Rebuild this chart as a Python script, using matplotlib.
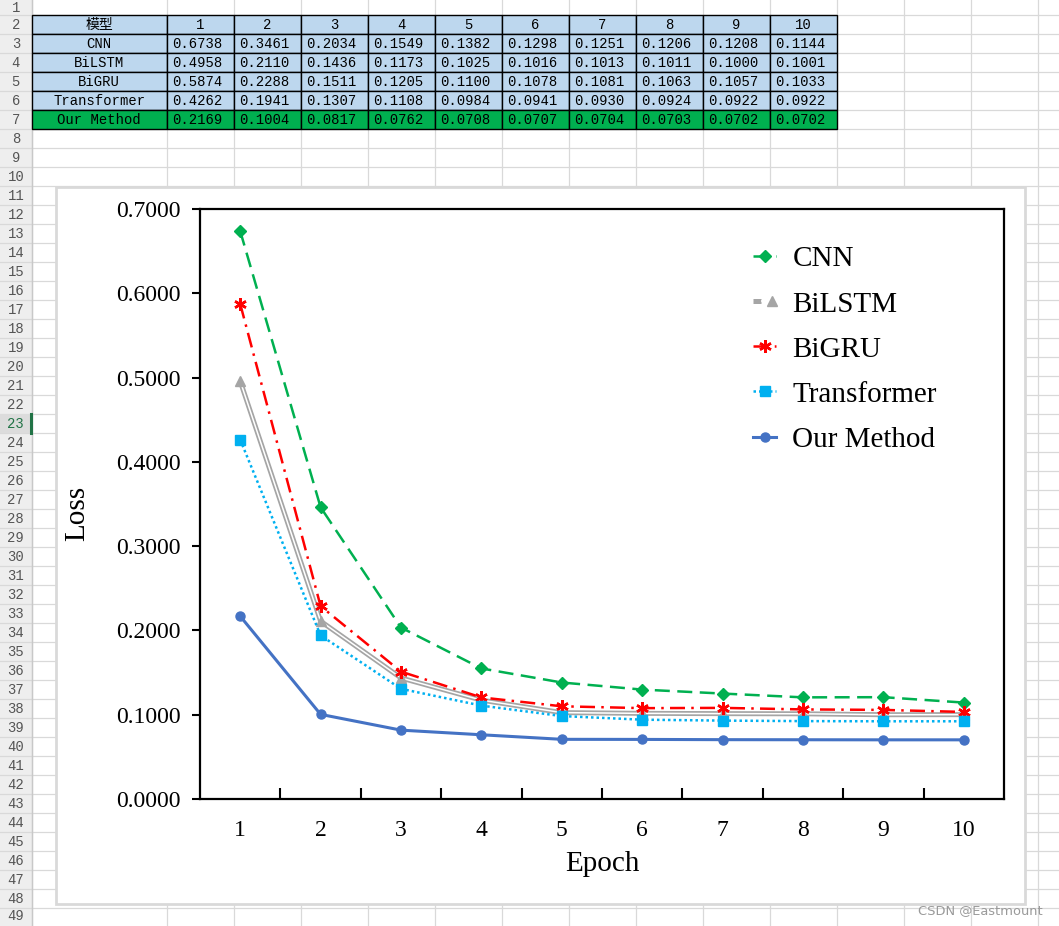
import matplotlib
matplotlib.use("Agg")
import matplotlib.pyplot as plt
from matplotlib.patches import Rectangle
from matplotlib.legend_handler import HandlerTuple

# ---------------- data ----------------
epochs = [1, 2, 3, 4, 5, 6, 7, 8, 9, 10]
models = ["CNN", "BiLSTM", "BiGRU", "Transformer", "Our Method"]
cnn = [0.6738, 0.3461, 0.2034, 0.1549, 0.1382, 0.1298, 0.1251, 0.1206, 0.1208, 0.1144]
bilstm = [0.4958, 0.2110, 0.1436, 0.1173, 0.1025, 0.1016, 0.1013, 0.1011, 0.1000, 0.1001]
bigru = [0.5874, 0.2288, 0.1511, 0.1205, 0.1100, 0.1078, 0.1081, 0.1063, 0.1057, 0.1033]
transformer = [0.4262, 0.1941, 0.1307, 0.1108, 0.0984, 0.0941, 0.0930, 0.0924, 0.0922, 0.0922]
ours = [0.2169, 0.1004, 0.0817, 0.0762, 0.0708, 0.0707, 0.0704, 0.0703, 0.0702, 0.0702]
series = [cnn, bilstm, bigru, transformer, ours]
header_label = "模型"
y_ticks = [0.0, 0.1, 0.2, 0.3, 0.4, 0.5, 0.6, 0.7]

W, H = 1059, 926
fig = plt.figure(figsize=(W / 100, H / 100), dpi=100)

# ---------------- spreadsheet background ----------------
bg = fig.add_axes([0, 0, 1, 1])
bg.set_xlim(0, W)
bg.set_ylim(H, 0)
bg.axis("off")

grid_c = "#D9D9D9"
row_h = 19.0
row_top0 = 15.3 - row_h  # top of row 1
col_w0 = 31.7
colA = (31.7, 166.7)
col_w = 67.0
col_edges = [colA[0], colA[1]] + [colA[1] + col_w * (i + 1) for i in range(13)]

# row header column
bg.add_patch(Rectangle((0, 0), col_w0, H, facecolor="#EEEEEE", edgecolor="none", zorder=0))
for r in range(1, 51):
    top = row_top0 + (r - 1) * row_h
    bg.plot([0, W], [top + row_h, top + row_h], color=grid_c, lw=0.9, zorder=1)
    if r == 23:
        bg.add_patch(Rectangle((0, top), col_w0, row_h, facecolor="#DCDCDC", edgecolor="none", zorder=1))
        bg.plot([col_w0 - 0.5, col_w0 - 0.5], [top, top + row_h], color="#217346", lw=2.2, zorder=3)
        c = "#217346"
    else:
        c = "#555555"
    ty = top + row_h / 2 + 0.5
    if r == 1:
        ty = 8
    if r == 49:
        ty = min(ty, 916)
    if ty > H:
        continue
    bg.text(col_w0 / 2, ty, str(r), ha="center", va="center",
            fontsize=10, color=c, family="Liberation Mono", zorder=2)
for x in col_edges:
    bg.plot([x, x], [0, H], color=grid_c, lw=0.9, zorder=1)
bg.plot([col_w0, col_w0], [0, H], color="#C8C8C8", lw=1.0, zorder=1)

# table
tbl_top = 15.3
for ri in range(6):
    top = tbl_top + ri * row_h
    fc = "#00B050" if ri == 5 else "#BDD7EE"
    for ci in range(11):
        x0, x1 = col_edges[ci], col_edges[ci + 1]
        bg.add_patch(Rectangle((x0, top), x1 - x0, row_h, facecolor=fc, edgecolor="black",
                               lw=1.0, zorder=4))
# header row
bg.text((col_edges[0] + col_edges[1]) / 2, tbl_top + row_h / 2 + 0.5, header_label,
        ha="center", va="center", fontsize=10, family=["Noto Sans CJK SC"], zorder=5)
for ci, e in enumerate(epochs):
    x0, x1 = col_edges[ci + 1], col_edges[ci + 2]
    bg.text((x0 + x1) / 2, tbl_top + row_h / 2 + 0.5, str(e), ha="center", va="center",
            fontsize=10, family="Liberation Mono", zorder=5)
for ri, (name, vals) in enumerate(zip(models, series)):
    top = tbl_top + (ri + 1) * row_h
    bg.text((col_edges[0] + col_edges[1]) / 2, top + row_h / 2 + 0.5, name, ha="center",
            va="center", fontsize=10, family="Liberation Mono", zorder=5)
    for ci, v in enumerate(vals):
        x0 = col_edges[ci + 1]
        bg.text(x0 + 5, top + row_h / 2 + 0.5, f"{v:.4f}", ha="left", va="center",
                fontsize=10, family="Liberation Mono", zorder=5)

# chart area box
bg.add_patch(Rectangle((56, 187), 1025 - 56, 904 - 187, facecolor="white",
                       edgecolor="#D9D9D9", lw=2.0, zorder=6))

# watermark
bg.text(1043, 911, "CSDN @Eastmount", ha="right", va="center", fontsize=9.4,
        color="#9A9A9A", family="DejaVu Sans", zorder=7)

# ---------------- chart ----------------
L, R, T, B = 200, 1004, 209, 799
ax = fig.add_axes([L / W, 1 - B / H, (R - L) / W, (B - T) / H])
ax.set_zorder(10)
ax.set_facecolor("none")
serif = "Liberation Serif"

lw = 1.8
l_cnn, = ax.plot(epochs, cnn, color="#00B050", ls=(0, (6, 3)), lw=lw, marker="D",
                 ms=6.5, zorder=3)
# BiLSTM double line
l_b1, = ax.plot(epochs, bilstm, color="#A5A5A5", lw=3.6, zorder=2, solid_capstyle="butt")
l_b2, = ax.plot(epochs, bilstm, color="white", lw=1.1, zorder=2, solid_capstyle="butt")
l_b3, = ax.plot(epochs, bilstm, color="#A5A5A5", lw=0, marker="^", ms=7, zorder=2)
l_gru, = ax.plot(epochs, bigru, color="#FF0000", ls=(0, (6, 2.5, 1, 2.5)), lw=lw,
                 marker=(6, 2, 0), ms=9, mew=1.8, zorder=3)
l_tr, = ax.plot(epochs, transformer, color="#00B0F0", ls=(0, (1, 1.2)), lw=lw, marker="s",
                ms=7, zorder=3)
l_our, = ax.plot(epochs, ours, color="#4472C4", lw=2.2, marker="o", ms=6.5, zorder=4)

ax.set_xlim(0.5, 10.5)
ax.set_ylim(0, 0.7)
ax.set_xticks(epochs)
ax.set_xticklabels([str(e) for e in epochs], fontsize=17, family=serif)
ax.set_xticks([e + 0.5 for e in epochs[:-1]], minor=True)
ax.tick_params(axis="x", which="major", length=0, pad=15)
ax.tick_params(axis="x", which="minor", direction="in", length=8, width=1.5)
ax.set_yticks(y_ticks)
ax.set_yticklabels([f"{v:.4f}" for v in y_ticks], fontsize=17, family=serif)
ax.tick_params(axis="y", direction="out", length=6, width=1.5, pad=8)
for s in ax.spines.values():
    s.set_linewidth(1.6)
    s.set_color("black")

ax.set_xlabel("Epoch", fontsize=21, family=serif)
ax.set_ylabel("Loss", fontsize=21, family=serif)
ax.yaxis.set_label_coords((77 - L) / (R - L), (B - 513) / (B - T))
ax.xaxis.set_label_coords(0.5, -(864 - B) / (B - T))
ax.xaxis.label.set_va("center")
ax.yaxis.label.set_va("center")

handles = [l_cnn, (l_b1, l_b2, l_b3), l_gru, l_tr, l_our]
leg = ax.legend(handles, models, handler_map={tuple: HandlerTuple(ndivide=None, pad=0)},
                loc="upper left", bbox_to_anchor=((753 - L) / (R - L), (B - 246) / (B - T)),
                frameon=False, prop={"family": serif, "size": 21}, handlelength=0.8,
                handletextpad=0.55, labelspacing=0.64, borderpad=0, borderaxespad=0)

fig.savefig("out.png", dpi=100)
